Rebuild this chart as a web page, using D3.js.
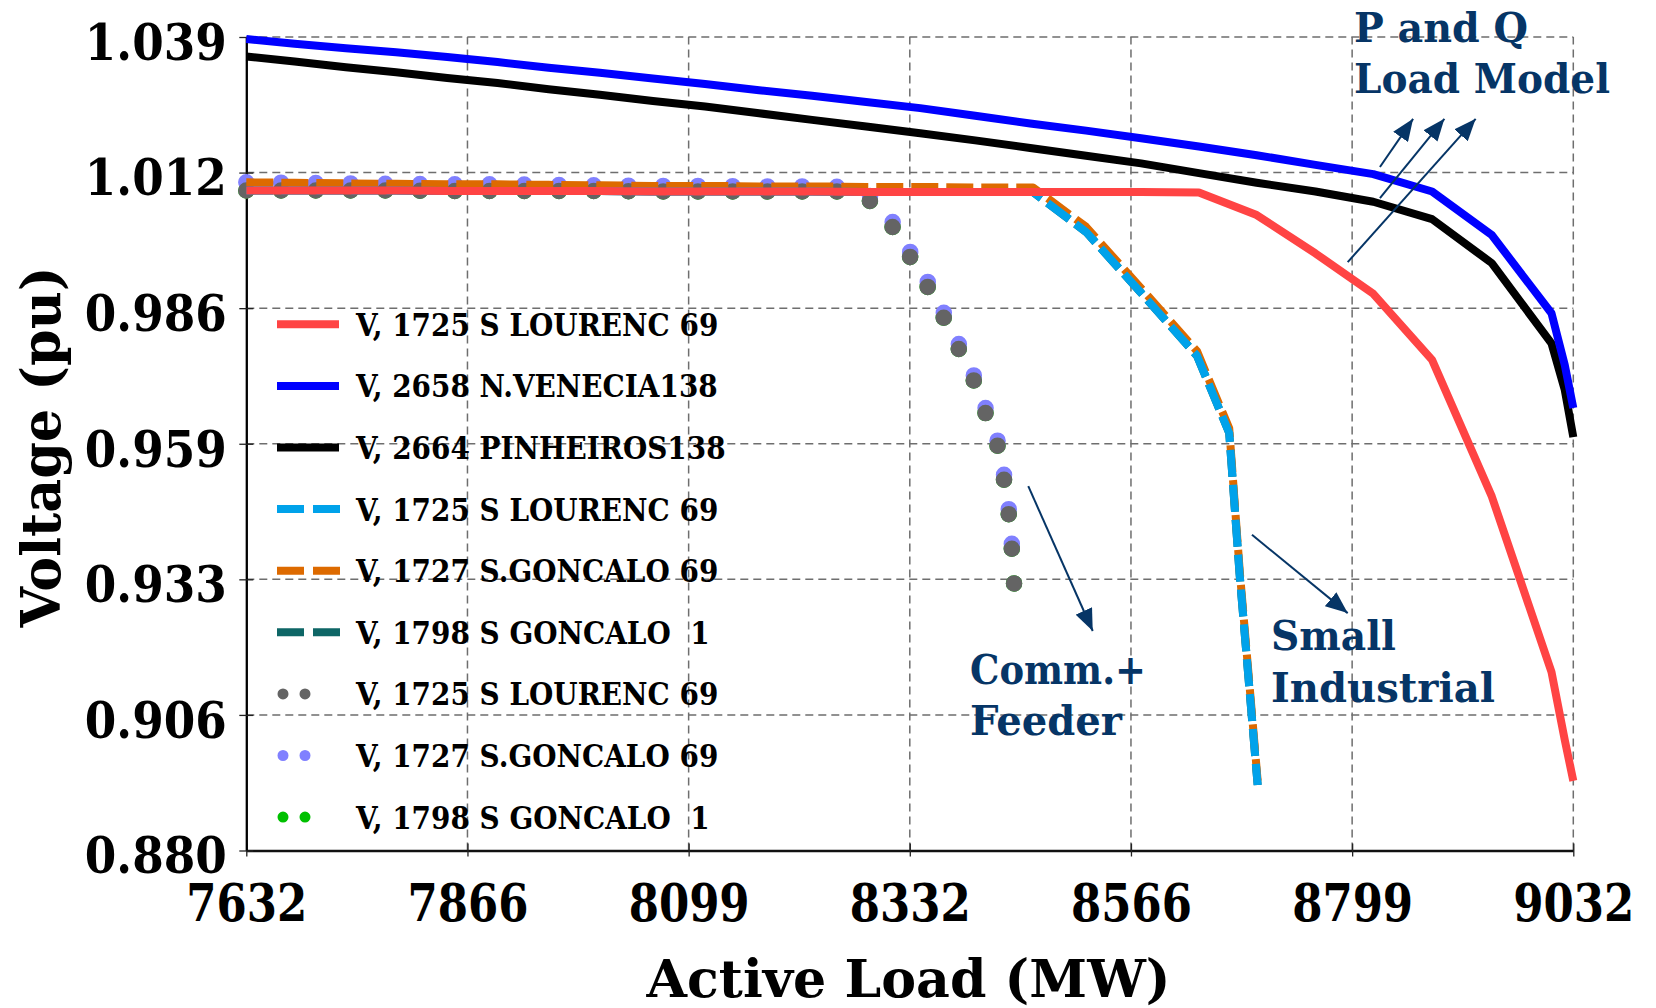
<!DOCTYPE html>
<html><head><meta charset="utf-8">
<script src="https://cdn.jsdelivr.net/npm/d3@7"></script>
<style>
html,body{margin:0;padding:0;background:#fff;}
svg text{font-family:'DejaVu Serif',serif;font-weight:bold;white-space:pre;}
</style></head><body>
<svg id="c" width="1656" height="1008"></svg>
<script>
// ---------------- DATA ----------------
const xTickValues = [7632, 7865.33, 8098.67, 8332, 8565.33, 8798.67, 9032];
const xTickLabels = ["7632","7866","8099","8332","8566","8799","9032"];
const yTickValues = [0.880, 0.9065, 0.933, 0.9595, 0.986, 1.0125, 1.039];
const yTickLabels = ["0.880","0.906","0.933","0.959","0.986","1.012","1.039"];

// P and Q load model (solid)
const loadPQ = [7632,7683,7737,7790,7844,7897,7951,8005,8061,8116,8173,8229,8286,8343,8401,8459,8518,8576,8637,8698,8760,8821,8883,8946,9009,9023,9032];
const vRedPQ   = [1.0090,1.0090,1.0090,1.0090,1.0089,1.0089,1.0089,1.0089,1.0088,1.0088,1.0088,1.0088,1.0087,1.0087,1.0087,1.0087,1.0087,1.0087,1.0086,1.0042,0.9967,0.9888,0.9759,0.9492,0.9149,0.9016,0.8936];
const vBluePQ  = [1.0386,1.0377,1.0368,1.0360,1.0351,1.0341,1.0330,1.0320,1.0309,1.0298,1.0286,1.0275,1.0263,1.0251,1.0236,1.0221,1.0207,1.0192,1.0176,1.0159,1.0140,1.0122,1.0088,1.0003,0.9850,0.9749,0.9665];
const vBlackPQ = [1.0352,1.0342,1.0331,1.0321,1.0310,1.0300,1.0288,1.0277,1.0265,1.0254,1.0241,1.0228,1.0215,1.0202,1.0188,1.0173,1.0158,1.0143,1.0124,1.0105,1.0088,1.0068,1.0034,0.9948,0.9791,0.9700,0.9608];

// Small industrial (dashed)
const loadSI = [7632,7683,7737,7790,7844,7897,7951,8005,8061,8116,8173,8229,8286,8343,8401,8462,8518,8575,8635,8669,8680,8699];
const vLBlueSI  = [1.0090,1.0090,1.0090,1.0090,1.0089,1.0089,1.0089,1.0089,1.0088,1.0088,1.0088,1.0088,1.0087,1.0087,1.0087,1.0087,1.0009,0.9892,0.9767,0.9616,0.9339,0.8928];
const vOrangeSI = [1.0106,1.0105,1.0104,1.0103,1.0102,1.0102,1.0101,1.0100,1.0099,1.0099,1.0098,1.0098,1.0097,1.0097,1.0096,1.0096,1.0019,0.9901,0.9776,0.9625,0.9348,0.8936];
const vTealSI   = [1.0090,1.0090,1.0090,1.0090,1.0089,1.0089,1.0089,1.0089,1.0088,1.0088,1.0088,1.0088,1.0087,1.0087,1.0087,1.0087,1.0009,0.9892,0.9767,0.9616,0.9339,0.8928];

// Commercial + feeder (dotted)
const loadCF = [7632,7683,7737,7790,7844,7897,7951,8005,8061,8116,8173,8229,8264,8292,8315,8333,8352,8369,8385,8401,8413,8426,8432,8437,8440,8442];
const vGreyCF   = [1.0090,1.0090,1.0090,1.0090,1.0089,1.0089,1.0089,1.0089,1.0088,1.0088,1.0088,1.0088,1.0088,1.0068,1.0016,0.9958,0.9898,0.9837,0.9775,0.9713,0.9649,0.9584,0.9518,0.9449,0.9381,0.9321];
const vPurpleCF = [1.0106,1.0105,1.0104,1.0103,1.0102,1.0102,1.0101,1.0100,1.0099,1.0099,1.0098,1.0098,1.0097,1.0078,1.0026,0.9968,0.9908,0.9847,0.9785,0.9723,0.9659,0.9594,0.9528,0.9459,0.9391,0.9341];
const vGreenCF  = [1.0090,1.0090,1.0090,1.0090,1.0089,1.0089,1.0089,1.0089,1.0088,1.0088,1.0088,1.0088,1.0088,1.0068,1.0016,0.9958,0.9898,0.9837,0.9775,0.9713,0.9649,0.9584,0.9518,0.9449,0.9381,0.9321];

const legendLabels = ["V, 1725 S LOURENC 69","V, 2658 N.VENECIA138","V, 2664 PINHEIROS138","V, 1725 S LOURENC 69","V, 1727 S.GONCALO 69","V, 1798 S GONCALO  1","V, 1725 S LOURENC 69","V, 1727 S.GONCALO 69","V, 1798 S GONCALO  1"];

// annotation arrows [fromLoad, fromV, toLoad, toV]
const arrowsData = [
  [8457, 0.9512, 8525, 0.9229],
  [8693, 0.9417, 8794, 0.9264],
  [8828, 1.0136, 8863, 1.0230],
  [8828, 1.0075, 8896, 1.0230],
  [8794, 0.9950, 8929, 1.0230]
];

// ---------------- DRAW ----------------
const svg = d3.select("#c");
svg.append("rect").attr("width",1656).attr("height",1008).attr("fill","#fff");
const x = d3.scaleLinear().domain([7632, 9032]).range([246.3, 1573.3]);
const y = d3.scaleLinear().domain([0.880, 1.039]).range([850.5, 37]);
const NAVY = "#063566";

function fitW(sel, w){ sel.attr("textLength", w).attr("lengthAdjust","spacingAndGlyphs"); }

// grid
const grid = svg.append("g");
grid.selectAll("line.h").data(yTickValues.slice(1)).enter().append("line")
  .attr("x1", x(7632)).attr("x2", x(9032)).attr("y1", d=>y(d)).attr("y2", d=>y(d))
  .attr("stroke","#6e6e6e").attr("stroke-width",1.5).attr("stroke-dasharray","8,5");
grid.selectAll("line.v").data(xTickValues.slice(1)).enter().append("line")
  .attr("y1", y(0.880)).attr("y2", y(1.039)).attr("x1", d=>x(d)).attr("x2", d=>x(d))
  .attr("stroke","#6e6e6e").attr("stroke-width",1.5).attr("stroke-dasharray","8,5");

// axes
const gx = svg.append("g").attr("transform",`translate(0,${y(0.880)})`)
  .call(d3.axisBottom(x).tickValues(xTickValues).tickFormat((d,i)=>xTickLabels[i]).tickSizeOuter(0));
gx.select(".domain").attr("stroke","#111").attr("stroke-width",2.5);
gx.selectAll(".tick line").attr("y1",-7).attr("y2",6).attr("stroke","#222").attr("stroke-width",1.3);
gx.selectAll(".tick text").attr("y",71).attr("dy",null).attr("fill","#000")
  .style("font-size","52px")
  .each(function(){
    const L = this.getComputedTextLength();
    d3.select(this).attr("transform", `scale(${121/L},1)`);
  });

const gy = svg.append("g").attr("transform",`translate(${x(7632)},0)`)
  .call(d3.axisLeft(y).tickValues(yTickValues).tickFormat((d,i)=>yTickLabels[i]).tickSizeOuter(0));
gy.select(".domain").attr("stroke","#000").attr("stroke-width",2.3);
gy.selectAll(".tick line").attr("x1",-7).attr("x2",7).attr("stroke","#222").attr("stroke-width",1.3);
gy.selectAll(".tick text").attr("y",22.3).attr("dy",null).attr("fill","#000")
  .style("font-size","51px")
  .each(function(){
    const L = this.getComputedTextLength();
    const k = 142/L;
    d3.select(this).attr("x", -19.5/k).attr("transform", `scale(${k},1)`);
  });

// axis titles
svg.append("text").attr("x",908.5).attr("y",996.5).attr("text-anchor","middle")
  .style("font-size","52px").text("Active Load (MW)").call(fitW,524);
svg.append("text").attr("transform","translate(59.5,447) rotate(-90)").attr("text-anchor","middle")
  .style("font-size","54px").text("Voltage (pu)").call(fitW,361);

// series
const line = d3.line().x(d=>x(d[0])).y(d=>y(d[1]));
function zip(a,b){ return a.map((v,i)=>[v,b[i]]); }
const styles = {
  solid:{w:8, dash:null, cap:"butt"},
  dash:{w:8, dash:"27,8", cap:"butt"},
  dot:{w:16.5, dash:"0,35", cap:"round"}
};
// dot period chosen so the grey dotted path ends on a dot
const probe = svg.append("path").datum(zip(loadCF, vGreyCF)).attr("d", line);
const Lg = probe.node().getTotalLength();
probe.remove();
const dotPeriod = (Lg / Math.max(1, Math.round(Lg/35))) * 0.9995;
styles.dot.dash = `0,${dotPeriod}`;

const series = [
  {load:loadCF, v:vGreenCF,  color:"#00c000", st:"dot"},
  {load:loadCF, v:vPurpleCF, color:"#8080ff", st:"dot"},
  {load:loadCF, v:vGreyCF,   color:"#646464", st:"dot"},
  {load:loadSI, v:vTealSI,   color:"#0e6666", st:"dash"},
  {load:loadSI, v:vOrangeSI, color:"#dd6a00", st:"dash"},
  {load:loadSI, v:vLBlueSI,  color:"#00a2ea", st:"dash"},
  {load:loadPQ, v:vBlackPQ,  color:"#000000", st:"solid"},
  {load:loadPQ, v:vBluePQ,   color:"#0000ff", st:"solid"},
  {load:loadPQ, v:vRedPQ,    color:"#ff4444", st:"solid"}
];
const gs = svg.append("g");
series.forEach(s=>{
  const st = styles[s.st];
  gs.append("path").datum(zip(s.load,s.v)).attr("d",line)
    .attr("fill","none").attr("stroke",s.color).attr("stroke-width",st.w)
    .attr("stroke-dasharray",st.dash).attr("stroke-linecap",st.cap)
    .attr("stroke-linejoin","round");
});

// legend
const legendColors = ["#ff4444","#0000ff","#000000","#00a2ea","#dd6a00","#0e6666","#646464","#8080ff","#00c000"];
const legendStyles = ["solid","solid","solid","dash","dash","dash","dot","dot","dot"];
const lg = svg.append("g");
const texts = [];
legendLabels.forEach((lab,i)=>{
  const cy = 324.3 + i*61.6;
  const st = legendStyles[i];
  let x1=277, x2=339, w=8, dash=null, cap="butt";
  if(st==="dash"){ x2=340; dash="27,9"; }
  if(st==="dot"){ x1=283; x2=327; w=11; dash="0,22"; cap="round"; }
  lg.append("line").attr("x1",x1).attr("x2",x2).attr("y1",cy).attr("y2",cy)
    .attr("stroke",legendColors[i]).attr("stroke-width",w)
    .attr("stroke-dasharray",dash).attr("stroke-linecap",cap);
  const t = lg.append("text").attr("x",356).attr("y",cy+11.5).style("font-size","31px").attr("fill","#000").text(lab);
  texts.push(t);
});
const ref = texts[0].node().getComputedTextLength();
const k = 362.3/ref;
texts.forEach(t=>{ const L=t.node().getComputedTextLength(); t.call(fitW, L*k); });

// annotations
const defs = svg.append("defs");
defs.append("marker").attr("id","ah").attr("markerUnits","userSpaceOnUse")
  .attr("markerWidth",22).attr("markerHeight",18).attr("refX",22).attr("refY",9)
  .attr("orient","auto").append("path").attr("d","M0,0 L22,9 L0,18 Z").attr("fill",NAVY);
svg.append("g").selectAll("line").data(arrowsData).enter().append("line")
  .attr("x1",d=>x(d[0])).attr("y1",d=>y(d[1])).attr("x2",d=>x(d[2])).attr("y2",d=>y(d[3]))
  .attr("stroke",NAVY).attr("stroke-width",2).attr("marker-end","url(#ah)");

const ann = [
  {t:"P and Q", x:1354, y:42, w:174},
  {t:"Load Model", x:1354, y:93, w:256},
  {t:"Comm.+", x:970, y:684, w:176},
  {t:"Feeder", x:970, y:735, w:152},
  {t:"Small", x:1271, y:650, w:125},
  {t:"Industrial", x:1271, y:702, w:224}
];
ann.forEach(a=>{
  svg.append("text").attr("x",a.x).attr("y",a.y).attr("fill",NAVY)
    .style("font-size","41px").text(a.t).call(fitW,a.w);
});
</script></body></html>
